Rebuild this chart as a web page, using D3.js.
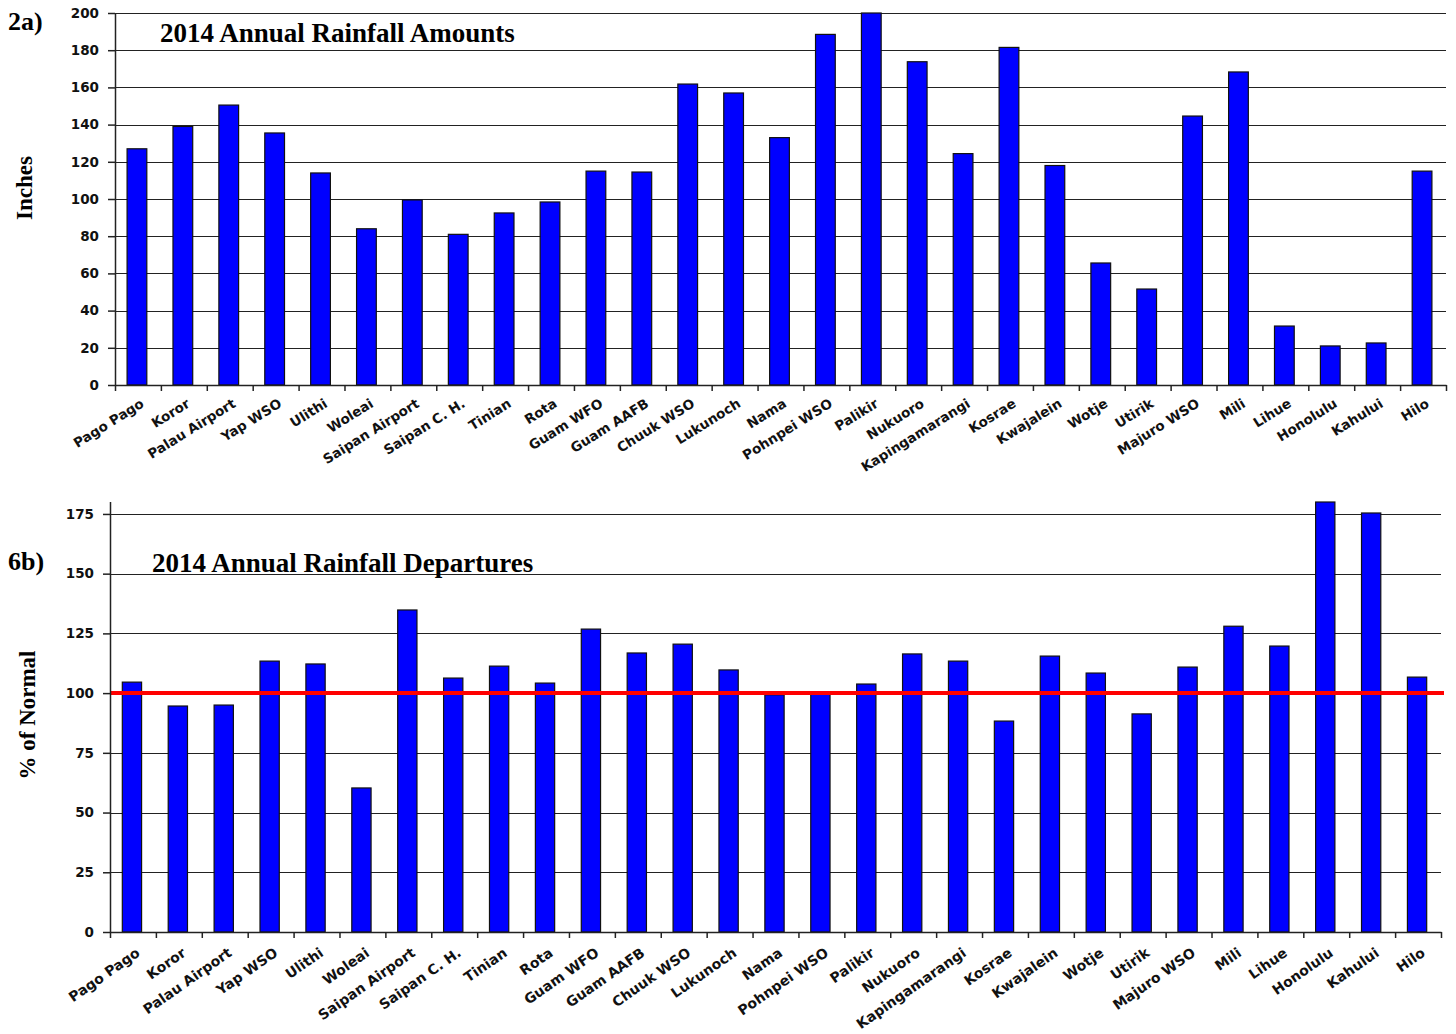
<!DOCTYPE html>
<html>
<head>
<meta charset="utf-8">
<script src="https://cdn.jsdelivr.net/npm/d3@7"></script>
<style>
  html, body { margin: 0; padding: 0; background: #fff; }
  svg { display: block; }
</style>
</head>
<body>
<svg id="chart" width="1456" height="1034"></svg>
<script>
const stationsTop = ["Pago Pago","Koror","Palau Airport","Yap WSO","Ulithi","Woleai","Saipan Airport","Saipan C. H.","Tinian","Rota","Guam WFO","Guam AAFB","Chuuk WSO","Lukunoch","Nama","Pohnpei WSO","Palikir","Nukuoro","Kapingamarangi","Kosrae","Kwajalein","Wotje","Utirik","Majuro WSO","Mili","Lihue","Honolulu","Kahului","Hilo"];
const stationsBottom = ["Pago Pago","Koror","Palau Airport","Yap WSO","Ulithi","Woleai","Saipan Airport","Saipan C. H.","Tinian","Rota","Guam WFO","Guam AAFB","Chuuk WSO","Lukunoch","Nama","Pohnpei WSO","Palikir","Nukuoro","Kapingamarangi","Kosrae","Kwajalein","Wotje","Utirik","Majuro WSO","Mili","Lihue","Honolulu","Kahului","Hilo"];
const rainfallInches = [127, 139, 150.5, 135.5, 114, 84, 99.5, 81, 92.5, 98.4, 115, 114.5, 161.8, 157, 133, 188.5, 200, 173.8, 124.4, 181.5, 118, 65.6, 51.6, 144.6, 168.3, 31.7, 21, 22.6, 115];
const percentNormal = [104.6, 94.6, 95, 113.4, 112.2, 60.3, 134.8, 106.3, 111.3, 104.2, 126.8, 116.8, 120.5, 109.7, 99.3, 100.5, 103.8, 116.4, 113.4, 88.3, 115.5, 108.4, 91.3, 110.9, 128, 119.7, 180, 175.4, 106.7];
const inchTicks = [0, 20, 40, 60, 80, 100, 120, 140, 160, 180, 200];
const percentTicks = [0, 25, 50, 75, 100, 125, 150, 175];
const normalLine = 100;
const panelTop = { tag: "2a)", title: "2014 Annual Rainfall Amounts", ylabel: "Inches" };
const panelBottom = { tag: "6b)", title: "2014 Annual Rainfall Departures", ylabel: "% of Normal" };

const svg = d3.select("#chart");
const serif = "'Liberation Serif', 'Times New Roman', serif";
const sans = "'DejaVu Sans', Verdana, sans-serif";

function drawPanel(cfg) {
  const g = svg.append("g");
  const x = d3.scaleBand().domain(cfg.cats).range([cfg.left, cfg.right]).padding(0);
  const xi = d3.scaleLinear().domain([0, cfg.cats.length]).range([cfg.left, cfg.right]);
  const y = d3.scaleLinear().domain(cfg.domain).range([cfg.bottom, cfg.top]);

  // gridlines
  g.append("g").selectAll("line").data(cfg.ticks.filter(t => t > 0)).join("line")
    .attr("x1", cfg.left).attr("x2", cfg.right)
    .attr("y1", d => Math.round(y(d)) + 0.5).attr("y2", d => Math.round(y(d)) + 0.5)
    .attr("stroke", "#222").attr("stroke-width", 1.2);

  // bars
  const bw = x.bandwidth() * cfg.barFrac;
  g.append("g").selectAll("rect").data(cfg.values).join("rect")
    .attr("x", (d, i) => x(cfg.cats[i]) + (x.bandwidth() - bw) / 2 + cfg.barShift)
    .attr("width", bw)
    .attr("y", d => y(Math.min(d, cfg.domain[1])))
    .attr("height", d => y(0) - y(Math.min(d, cfg.domain[1])))
    .attr("fill", "#0000ff").attr("stroke", "#111").attr("stroke-width", 1.2);

  // reference line
  if (cfg.refLine !== undefined) {
    g.append("line")
      .attr("x1", cfg.left).attr("x2", cfg.right + 3)
      .attr("y1", y(cfg.refLine)).attr("y2", y(cfg.refLine))
      .attr("stroke", "#ff0000").attr("stroke-width", 4);
  }

  // y axis
  const ya = g.append("g").attr("transform", `translate(${cfg.left},0)`)
    .call(d3.axisLeft(y).tickValues(cfg.ticks).tickSize(7).tickSizeOuter(0).tickPadding(cfg.yPad));
  ya.select(".domain").attr("stroke", "#222").attr("stroke-width", 1.5)
    .attr("d", `M0.5,${cfg.axisTop}V${cfg.bottom}`);
  ya.selectAll(".tick line").attr("stroke", "#222").attr("stroke-width", 1.5);
  ya.selectAll(".tick text").attr("font-family", sans).attr("font-weight", "bold")
    .attr("font-size", cfg.yFont).attr("fill", "#111");

  // x axis (tick marks at band edges)
  const xa = g.append("g").attr("transform", `translate(0,${cfg.bottom})`)
    .call(d3.axisBottom(xi).tickValues(d3.range(cfg.cats.length + 1)).tickSize(6).tickSizeOuter(0).tickFormat(""));
  xa.select(".domain").attr("stroke", "#222").attr("stroke-width", 1.5);
  xa.selectAll(".tick line").attr("stroke", "#222").attr("stroke-width", 1.5);

  // category labels
  g.append("g").selectAll("text").data(cfg.cats).join("text")
    .attr("transform", d => `translate(${x(d) + x.bandwidth() / 2 + cfg.lblDx},${cfg.bottom + cfg.lblDy}) rotate(${cfg.angle})`)
    .attr("text-anchor", "end")
    .attr("font-family", sans).attr("font-weight", "bold")
    .attr("font-size", cfg.xFont).attr("fill", "#111")
    .text(d => d);

  // tag, title, y label
  g.append("text").attr("x", 8).attr("y", cfg.tagY)
    .attr("font-family", serif).attr("font-weight", "bold").attr("font-size", 26).text(cfg.tag);
  g.append("text").attr("x", cfg.titleX).attr("y", cfg.titleY)
    .attr("font-family", serif).attr("font-weight", "bold").attr("font-size", 27).text(cfg.title);
  g.append("text").attr("transform", `translate(${cfg.ylX},${cfg.ylY}) rotate(-90)`)
    .attr("text-anchor", "middle")
    .attr("font-family", serif).attr("font-weight", "bold").attr("font-size", 23).text(cfg.ylabel);
}

drawPanel({
  cats: stationsTop, values: rainfallInches, ticks: inchTicks, domain: [0, 200],
  left: 115, right: 1446, top: 13, bottom: 385, axisTop: 13,
  barFrac: 0.43, barShift: -1, yPad: 9, yFont: 13.5,
  lblDx: 7, lblDy: 21, angle: -32, xFont: 13.5,
  tag: panelTop.tag, tagY: 30, title: panelTop.title, titleX: 160, titleY: 42,
  ylabel: panelTop.ylabel, ylX: 32, ylY: 188
});

drawPanel({
  cats: stationsBottom, values: percentNormal, ticks: percentTicks, domain: [0, 180],
  left: 110, right: 1441, top: 502, bottom: 932, axisTop: 502,
  barFrac: 0.42, barShift: -1, yPad: 9, yFont: 13.5,
  lblDx: 8, lblDy: 23, angle: -35, xFont: 14,
  refLine: normalLine,
  tag: panelBottom.tag, tagY: 570, title: panelBottom.title, titleX: 152, titleY: 572,
  ylabel: panelBottom.ylabel, ylX: 35, ylY: 715
});
</script>
</body>
</html>
